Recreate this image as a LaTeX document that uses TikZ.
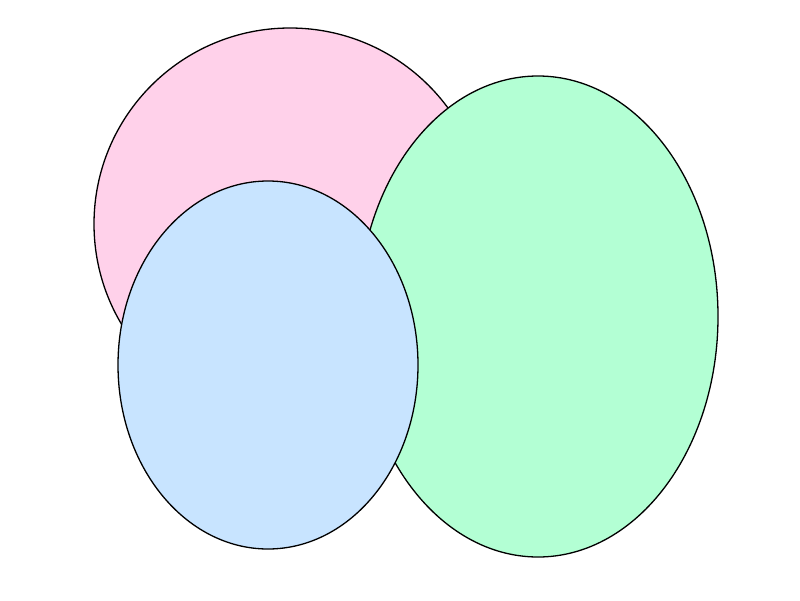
\documentclass[tikz,border=0pt]{standalone}
\definecolor{pinkf}{HTML}{FFD1EA}
\definecolor{greenf}{HTML}{B3FFD4}
\definecolor{bluef}{HTML}{C8E4FF}
\begin{document}
\begin{tikzpicture}[x=1pt,y=-1pt,blob/.style={draw=black,line width=1.3pt}]
\useasboundingbox (0,0) rectangle (800,600);
\path[blob,fill=pinkf] (290,224) ellipse [x radius=196,y radius=196];
\path[blob,fill=greenf] (538,316.5) ellipse [x radius=180,y radius=240.5];
\path[blob,fill=bluef] (268,365) ellipse [x radius=150,y radius=184];
\end{tikzpicture}
\end{document}
